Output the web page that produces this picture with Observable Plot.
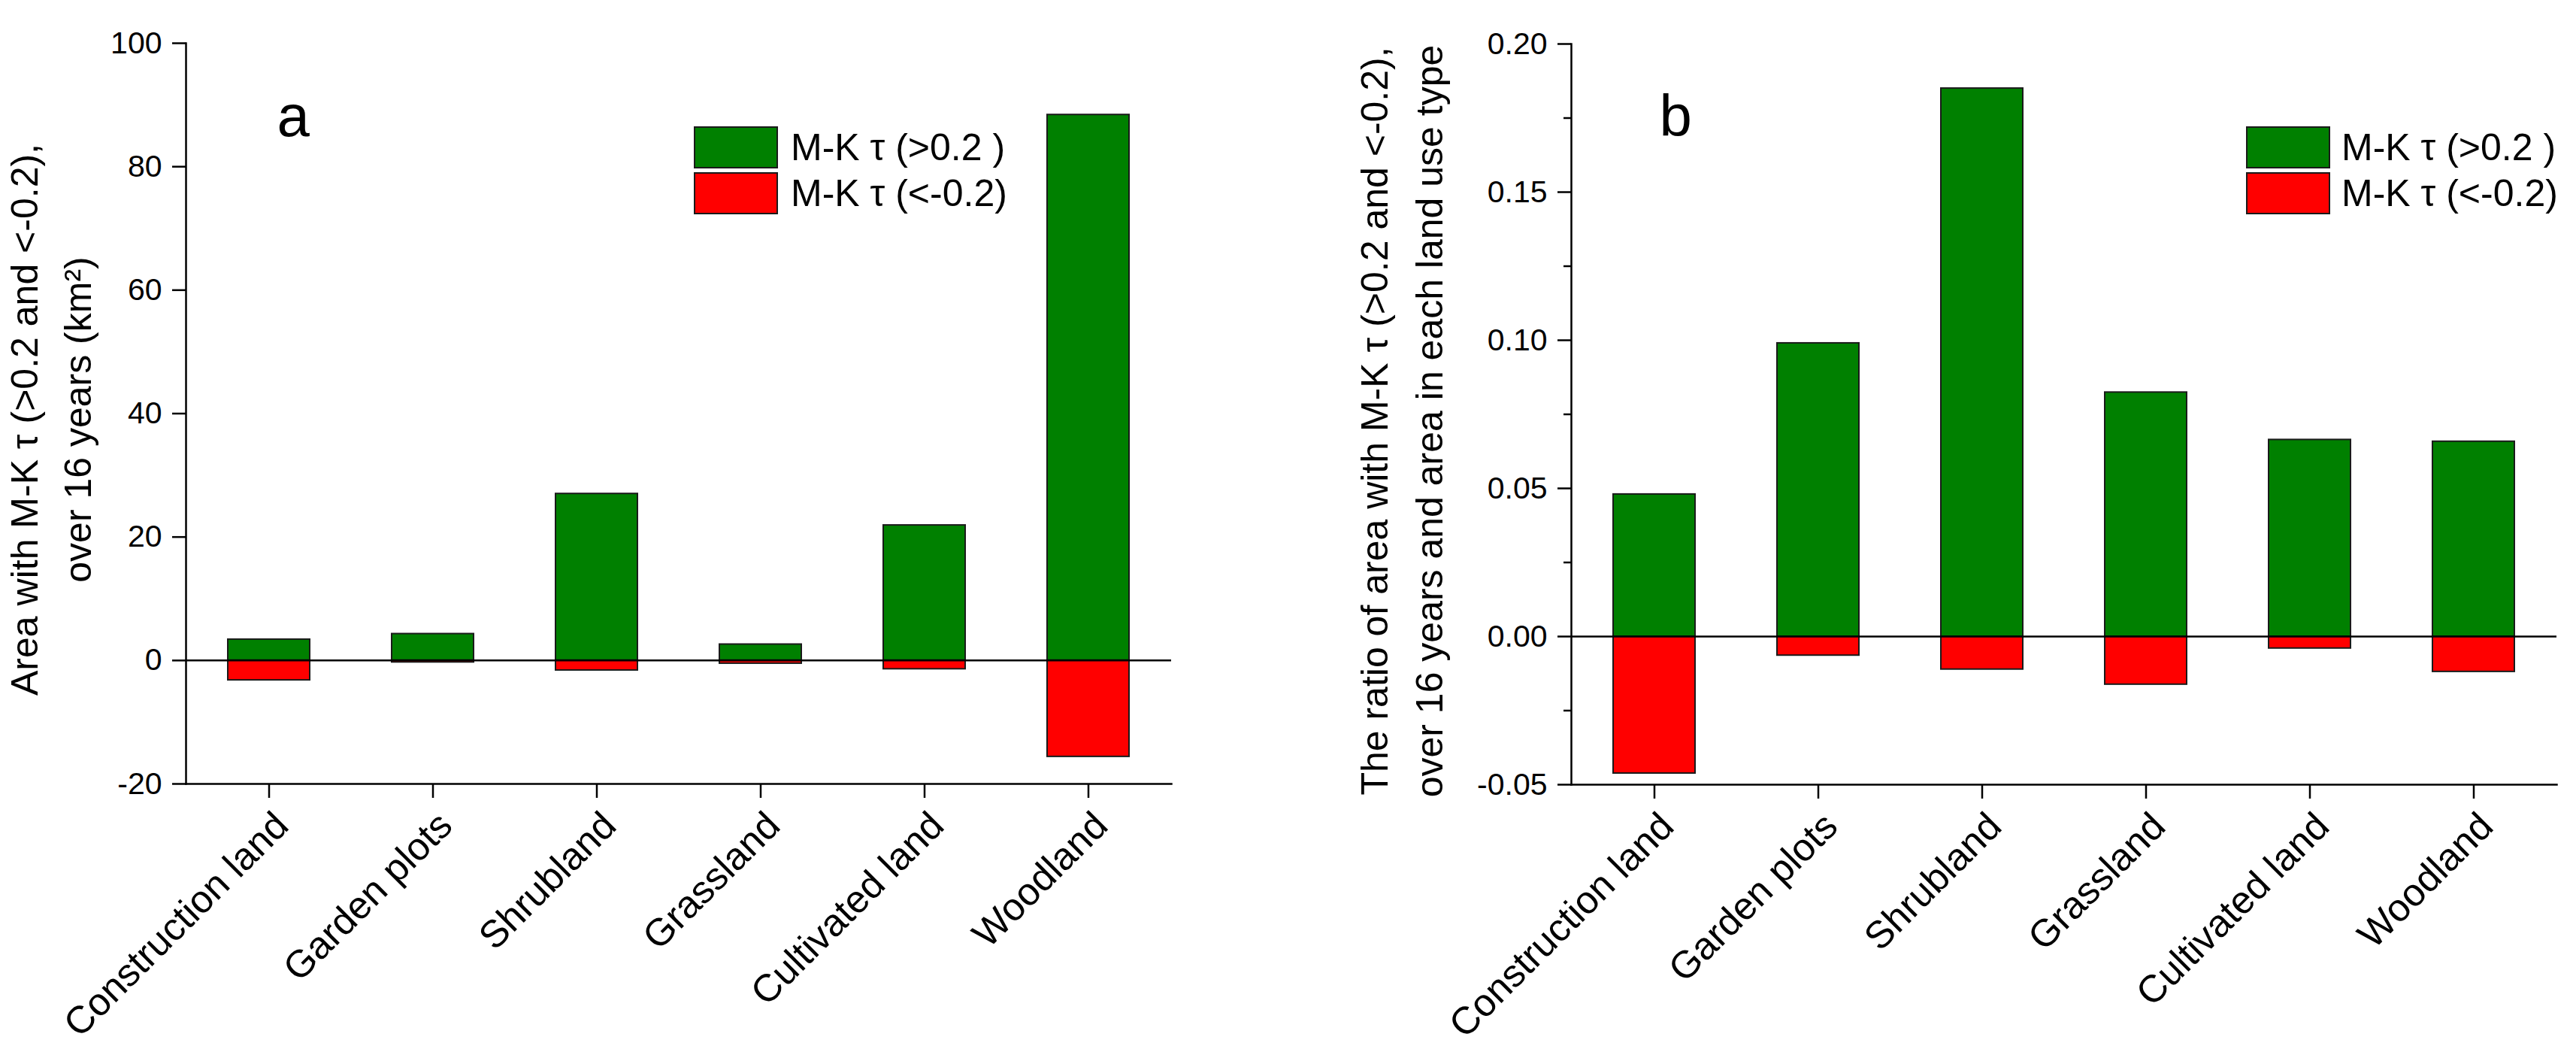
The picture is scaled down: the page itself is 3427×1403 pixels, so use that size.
<!DOCTYPE html>
<html><head><meta charset="utf-8">
<script src="https://cdn.jsdelivr.net/npm/d3@7"></script>
<script src="https://cdn.jsdelivr.net/npm/@observablehq/plot@0.6"></script>
<style>
html,body{margin:0;padding:0;background:#fff;}
#wrap{position:relative;width:3427px;height:1403px;font-family:"Liberation Sans",Arial,sans-serif;overflow:hidden;}
.panel{position:absolute;top:0;}
.lgbox{position:absolute;box-sizing:border-box;border:2px solid #1a1a1a;width:112px;height:56px;}
.lgtxt{position:absolute;font-size:50px;line-height:50px;white-space:nowrap;color:#000;}
</style></head><body><div id="wrap"></div>
<script>
const FONT = '"Liberation Sans", Arial, sans-serif';
const categories = ["Construction land", "Garden plots", "Shrubland", "Grassland", "Cultivated land", "Woodland"];
const areaPositive = [3.4, 4.3, 27.0, 2.6, 21.9, 88.4];
const areaNegative = [-3.2, -0.3, -1.6, -0.5, -1.4, -15.6];
const ratioPositive = [0.048, 0.099, 0.185, 0.0824, 0.0664, 0.0658];
const ratioNegative = [-0.0462, -0.0064, -0.0111, -0.0162, -0.0040, -0.0119];
const areaTicks = [-20, 0, 20, 40, 60, 80, 100];
const ratioTicks = [-0.05, 0, 0.05, 0.10, 0.15, 0.20];
const ratioMinorTicks = [-0.025, 0.025, 0.075, 0.125, 0.175];
const seriesLabels = ["M-K τ (>0.2 )", "M-K τ (<-0.2)"];
const seriesColors = ["#008000", "#ff0000"];
const panelLetters = ["a", "b"];
const yTitles = [
  "Area with M-K τ (>0.2 and <-0.2),\nover 16 years (km²)",
  "The ratio of area with M-K τ (>0.2 and <-0.2),\nover 16 years and area in each land use type"
];

function panel(o) {
  const data = categories.map((c, i) => ({c, pos: o.pos[i], neg: o.neg[i]}));
  const marks = [
    Plot.barY(data, {x: "c", y: "pos", fill: seriesColors[0], stroke: "#1a1a1a", strokeWidth: 2}),
    Plot.barY(data, {x: "c", y: "neg", fill: seriesColors[1], stroke: "#1a1a1a", strokeWidth: 2}),
    Plot.ruleY([0], {stroke: "#000", strokeWidth: 2.5}),
    Plot.frame({anchor: "left", stroke: "#000", strokeWidth: 2.5}),
    Plot.frame({anchor: "bottom", stroke: "#000", strokeWidth: 2.5}),
    Plot.axisY({ticks: o.ticks, tickSize: 18, tickPadding: 14, tickFormat: o.fmt, fontSize: 41, strokeWidth: 2.5, label: null}),
    Plot.axisX({tickSize: 19, tickFormat: () => "", strokeWidth: 2.5, label: null}),
    Plot.axisX({tickSize: 0, tickRotate: -45, tickPadding: 47, dx: 17, fontSize: 51, label: null}),
    Plot.text([o.title], {frameAnchor: "left", rotate: -90, dx: o.titleDx, dy: o.titleDy, lineAnchor: "bottom", lineHeight: o.lineHeight, fontSize: 50, textAnchor: "middle"}),
    Plot.text([o.letter], {frameAnchor: "top-left", dx: o.letterDx, dy: o.letterDy, lineAnchor: "bottom", textAnchor: "start", fontSize: 78})
  ];
  if (o.minor) marks.push(Plot.axisY({ticks: o.minor, tickSize: 10, tickFormat: () => "", strokeWidth: 2.5, label: null}));
  return Plot.plot({
    width: o.width, height: 1403,
    marginLeft: o.left, marginRight: o.right, marginTop: o.top, marginBottom: o.bottom,
    style: {fontFamily: FONT, background: "transparent", overflow: "visible", color: "#000"},
    x: {domain: categories, paddingInner: 0.5, paddingOuter: 0.25},
    y: {domain: o.domain},
    marks
  });
}

const wrap = document.getElementById("wrap");
const pa = panel({
  pos: areaPositive, neg: areaNegative, domain: [-20, 100], ticks: areaTicks, fmt: d => String(d),
  width: 1700, left: 247, right: 142, top: 57, bottom: 361,
  title: yTitles[0], titleDx: -127, titleDy: 8, lineHeight: 1.42,
  letter: panelLetters[0], letterDx: 121, letterDy: 123
});
pa.classList.add("panel"); pa.style.left = "0px";
wrap.appendChild(pa);

const pb = panel({
  pos: ratioPositive, neg: ratioNegative, domain: [-0.05, 0.20], ticks: ratioTicks, minor: ratioMinorTicks, fmt: d => d.toFixed(2),
  width: 1727, left: 390, right: 26, top: 58, bottom: 360,
  title: yTitles[1], titleDx: -172, titleDy: 9, lineHeight: 1.46,
  letter: panelLetters[1], letterDx: 117, letterDy: 122
});
pb.classList.add("panel"); pb.style.left = "1700px";
wrap.appendChild(pb);

function legend(boxLeft, textLeft) {
  seriesLabels.forEach((lab, i) => {
    const b = document.createElement("div");
    b.className = "lgbox";
    b.style.left = boxLeft + "px";
    b.style.top = (168 + i * 61) + "px";
    b.style.background = seriesColors[i];
    wrap.appendChild(b);
    const t = document.createElement("div");
    t.className = "lgtxt";
    t.style.left = textLeft + "px";
    t.style.top = (171 + i * 61) + "px";
    t.textContent = lab;
    wrap.appendChild(t);
  });
}
legend(923, 1052);
legend(2988, 3115);
</script>
</body></html>
